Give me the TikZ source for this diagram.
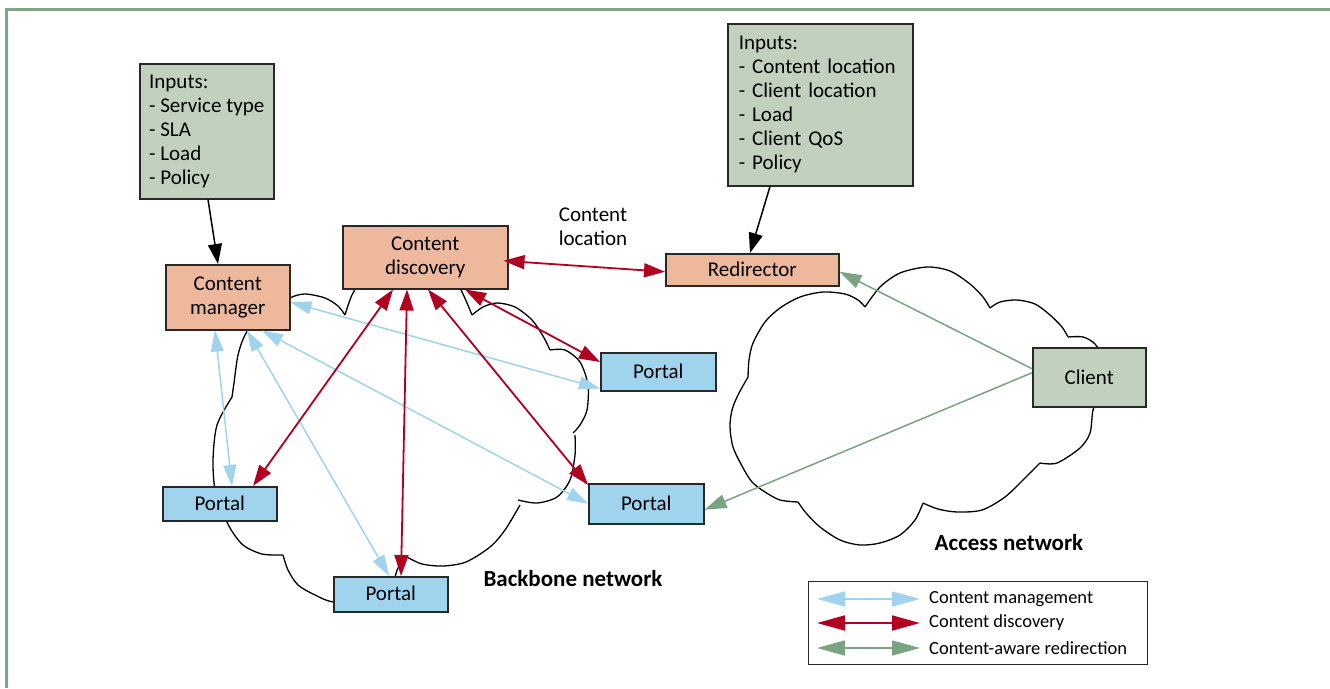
\documentclass[tikz,border=0pt]{standalone}
\usepackage{fontspec}
\setmainfont{Carlito}
\usetikzlibrary{arrows.meta}
\definecolor{frameg}{RGB}{125,165,135}
\definecolor{cmblue}{RGB}{160,212,238}
\definecolor{cdred}{RGB}{178,0,32}
\definecolor{crgreen}{RGB}{122,163,131}
\definecolor{salmon}{RGB}{237,184,155}
\definecolor{sage}{RGB}{194,208,190}
\definecolor{portalblue}{RGB}{160,212,238}
\definecolor{edgec}{RGB}{40,40,40}
\begin{document}
\begin{tikzpicture}[x=1pt,y=-1pt,
  box/.style={draw=edgec,line width=1.5pt,inner sep=0pt,anchor=north west,font=\fontsize{21}{24}\selectfont,align=center},
  inbox/.style={box,fill=sage,align=left},
  orange/.style={box,fill=salmon},
  portal/.style={box,fill=portalblue,minimum width=114pt},
  mgmt/.style={color=cmblue,line width=1.5pt,{Triangle[length=21pt,width=13pt]}-{Triangle[length=21pt,width=13pt]}},
  disc/.style={color=cdred,line width=1.8pt,{Triangle[length=21pt,width=14pt]}-{Triangle[length=21pt,width=14pt]}},
  redir/.style={color=crgreen,line width=1.5pt,-{Triangle[length=22pt,width=14pt]}},
  feed/.style={color=black,line width=1.5pt,-{Triangle[length=20pt,width=14pt]}},
  legmgmt/.style={color=cmblue,line width=1.5pt,{Triangle[length=28pt,width=15pt]}-{Triangle[length=28pt,width=15pt]}},
  legdisc/.style={color=cdred,line width=1.8pt,{Triangle[length=28pt,width=15pt]}-{Triangle[length=28pt,width=15pt]}},
  legredir/.style={color=crgreen,line width=1.5pt,{Triangle[length=28pt,width=15pt]}-{Triangle[length=28pt,width=15pt]}},
  cloudline/.style={draw=black,line width=1.3pt},
  lbl/.style={font=\fontsize{21}{24}\selectfont,align=center},
  net/.style={font=\fontsize{23}{26}\selectfont\bfseries},
  legtext/.style={font=\fontsize{18.5}{20}\selectfont,anchor=west,inner sep=0pt},
]
\useasboundingbox (0,0) rectangle (1330,688);
\fill[white] (0,0) rectangle (1330,688);
% frame
\draw[frameg,line width=3pt] (1330,9) -- (6,9) -- (6,688);

% backbone cloud
\draw[cloudline] plot[smooth] coordinates {(275,310) (290,298) (305,294) (325,298) (338,306) (345,315)};
\draw[cloudline] plot[smooth] coordinates {(345,315) (353,293) (368,275) (410,262) (448,272) (461,290) (472,315)};
\draw[cloudline] plot[smooth] coordinates {(472,315) (483,307) (497,303) (515,307) (532,320) (543,336) (550,350)};
\draw[cloudline] plot[smooth] coordinates {(550,350) (565,350) (580,362) (588,385) (587,410) (580,425) (573,433)};
\draw[cloudline] plot[smooth] coordinates {(575,435) (575,455) (570,480) (557,497) (537,503) (518,500)};
\draw[cloudline] plot[smooth] coordinates {(520,505) (505,530) (490,547) (466,562) (443,566) (422,564) (407,557)};
\draw[cloudline] plot[smooth] coordinates {(407,557) (398,568) (390,588) (365,603) (333,602) (315,595) (298,585) (288,570) (283,555)};
\draw[cloudline] plot[smooth] coordinates {(283,555) (262,554) (243,545) (230,528) (222,510) (215,490) (213,460) (217,425) (232,397)};
\draw[cloudline] plot[smooth] coordinates {(232,397) (234,383) (238,355) (245,335) (258,318) (275,310)};

% access cloud
\draw[cloudline] plot[smooth] coordinates {(865,307) (880,287) (900,273) (927,267) (950,271) (970,284) (983,297) (990,308)};
\draw[cloudline] plot[smooth] coordinates {(990,308) (1000,302) (1017,300) (1035,304) (1050,315) (1062,327) (1068,337)};
\draw[cloudline] plot[smooth] coordinates {(1068,337) (1083,337) (1095,344) (1103,360) (1100,390) (1093,410) (1090,433) (1080,448) (1057,463) (1040,463)};
\draw[cloudline] plot[smooth] coordinates {(1040,463) (1025,478) (1005,497) (982,510) (957,512) (938,509) (923,503)};
\draw[cloudline] plot[smooth] coordinates {(923,503) (915,520) (900,535) (880,543) (860,545) (840,540) (820,527) (806,513) (798,502)};
\draw[cloudline] plot[smooth] coordinates {(798,502) (780,500) (765,492) (752,482) (742,466) (733,447) (730,427) (732,410) (738,395) (748,377)};
\draw[cloudline] plot[smooth] coordinates {(748,377) (749,360) (753,343) (765,322) (780,308) (800,297) (823,292) (845,294) (858,300) (865,307)};

% nodes
\node[inbox,minimum width=134pt,minimum height=135pt] (inL) at (139,63) {Inputs:\\- Service type\\- SLA\\- Load\\- Policy};
\node[inbox,inner xsep=11pt,text width=163pt,minimum height=162pt] (inR) at (727,23) {Inputs:\\- Content location\\- Client location\\- Load\\- Client QoS\\- Policy};
\node[orange,minimum width=124pt,minimum height=65pt] (cm) at (165,264) {Content\\manager};
\node[orange,minimum width=165pt,minimum height=63pt] (cd) at (342,225) {Content\\discovery};
\node[orange,minimum width=173pt,minimum height=32pt] (rd) at (665,253) {Redirector};
\node[box,fill=sage,minimum width=113pt,minimum height=59pt] (cl) at (1032,347) {Client};
\node[portal,minimum width=115pt,minimum height=38pt] (pUR) at (600,352) {Portal};
\node[portal,minimum width=115pt,minimum height=40pt] (pMR) at (588,483) {Portal};
\node[portal,minimum height=34pt] (pL) at (162,486) {Portal};
\node[portal,minimum height=35pt,text depth=3pt] (pB) at (333,576) {Portal};

\node[lbl] (loc) at (593,227) {Content\\location};
\node[net] (bb) at (573,579) {Backbone network};
\node[net] (an) at (1009,543) {Access network};

% connectors: content management
\draw[mgmt] ([yshift=-5pt]cm.east) -- ([yshift=3pt]pUR.south west);
\draw[mgmt] ([xshift=50pt]cm.south west) -- ([xshift=70pt]pL.north west);
\draw[mgmt] ([xshift=82pt]cm.south west) -- ([xshift=56pt]pB.north west);
\draw[mgmt] ([xshift=97pt]cm.south west) -- (pMR.west);
% content discovery
\draw[disc] ([xshift=-5pt,yshift=-3.5pt]cd.east) -- ([yshift=-2pt]rd.west);
\draw[disc] ([xshift=51pt]cd.south west) -- ([xshift=91pt]pL.north west);
\draw[disc] ([xshift=65pt]cd.south west) -- ([xshift=68pt]pB.north west);
\draw[disc] ([xshift=86pt]cd.south west) -- ([yshift=-2pt]pMR.north west);
\draw[disc] ([xshift=123pt]cd.south west) -- ([yshift=-10pt]pUR.north west);
% redirection
\draw[redir] ([yshift=8.5pt]cl.west) -- ([yshift=-2pt]rd.east);
\draw[redir] ([yshift=4.5pt]cl.west) -- ([yshift=-6pt]pMR.east);
% inputs
\draw[feed] ([xshift=69pt]inL.south west) -- ([xshift=53pt]cm.north west);
\draw[feed] ([xshift=43pt]inR.south west) -- ([xshift=85pt]rd.north west);

% legend
\node[draw=edgec,line width=1.2pt,minimum width=339pt,minimum height=83pt,anchor=north west,inner sep=0pt] (legend) at (808,581) {};
\coordinate (l1a) at (817,599); \coordinate (l1b) at (920,599);
\coordinate (l2a) at (817,623); \coordinate (l2b) at (920,623);
\coordinate (l3a) at (817,648); \coordinate (l3b) at (920,648);
\draw[legmgmt] (l1a) -- (l1b);
\draw[legdisc] (l2a) -- (l2b);
\draw[legredir] (l3a) -- (l3b);
\node[legtext] (t1) at (929,599) {Content management};
\node[legtext] (t2) at (929,623) {Content discovery};
\node[legtext] (t3) at (929,648) {Content-aware redirection};
\end{tikzpicture}
\end{document}
